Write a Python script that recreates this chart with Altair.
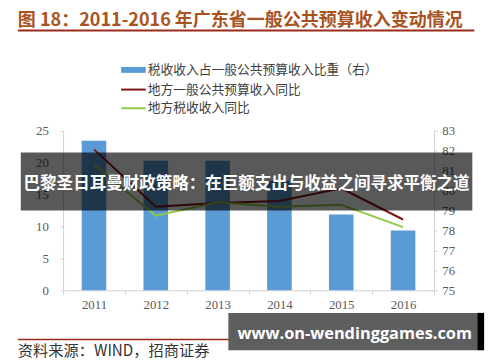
import altair as alt
import pandas as pd

years = ["2011", "2012", "2013", "2014", "2015", "2016"]
tax_share = [82.5, 81.5, 81.5, 80.5, 78.8, 78.0]      # 税收收入占一般公共预算收入比重(右)
budget_yoy = [22.1, 13.1, 13.7, 14.0, 16.0, 11.1]     # 地方一般公共预算收入同比
tax_yoy = [19.7, 11.7, 13.8, 13.1, 13.4, 9.9]         # 地方税收收入同比

s_bar = "税收收入占一般公共预算收入比重（右）"
s_red = "地方一般公共预算收入同比"
s_green = "地方税收收入同比"
title_text = "图 18：2011-2016 年广东省一般公共预算收入变动情况"
banner_text = "巴黎圣日耳曼财政策略：在巨额支出与收益之间寻求平衡之道"
source_text = "资料来源：WIND，招商证券"
watermark_text = "www.on-wendinggames.com"

BLUE = "#5B9BD5"
RED = "#7F1416"
GREEN = "#92C94A"
AX = "#D0D0D0"
LBL = "#595959"
SERIF = "Liberation Serif"
CJK = "Noto Sans CJK SC"

W, H = 377, 162

bar_df = pd.DataFrame({"year": years, "share": tax_share})
line_df = pd.DataFrame({
    "year": years * 2,
    "value": budget_yoy + tax_yoy,
    "series": [s_red] * 6 + [s_green] * 6,
})
one = pd.DataFrame({"k": [0]})

xenc = alt.X("year:N", title=None, sort=years,
             scale=alt.Scale(paddingInner=0, paddingOuter=0),
             axis=alt.Axis(labelAngle=0, tickBand="extent", domainColor=AX, tickColor=AX,
                           tickSize=4, labelPadding=5, labelFont=SERIF, labelFontSize=13,
                           labelColor=LBL))

bars = alt.Chart(bar_df).mark_bar(size=25, color=BLUE).encode(
    x=xenc,
    y=alt.Y("share:Q", title=None,
            scale=alt.Scale(domain=[75, 83], zero=False, nice=False),
            axis=alt.Axis(orient="right", values=list(range(75, 84)), grid=False,
                          domainColor=AX, tickColor=AX, tickSize=3, labelPadding=5,
                          labelFont=SERIF, labelFontSize=13, labelColor=LBL)),
    y2=alt.datum(75),
)

lines = alt.Chart(line_df).mark_line(strokeWidth=2).encode(
    x=xenc,
    y=alt.Y("value:Q", title=None,
            scale=alt.Scale(domain=[0, 25], nice=False),
            axis=alt.Axis(orient="left", values=[0, 5, 10, 15, 20, 25], grid=False,
                          domainColor=AX, tickColor=AX, tickSize=3, labelPadding=12,
                          labelFont=SERIF, labelFontSize=13, labelColor=LBL)),
    color=alt.Color("series:N", scale=alt.Scale(domain=[s_red, s_green], range=[RED, GREEN]),
                    legend=None),
)

def deco():
    return alt.Chart(one)

title = deco().mark_text(text=title_text, align="left", baseline="middle", font=CJK,
                         fontSize=18.3, fontWeight="bold", color="#A9531E").encode(
    x=alt.value(-46), y=alt.value(-112))
underline = deco().mark_rule(color="#9B2B1B", strokeWidth=2).encode(
    x=alt.value(-46), x2=alt.value(418), y=alt.value(-102))

leg_rect = deco().mark_rect(color=BLUE).encode(
    x=alt.value(59), x2=alt.value(84), y=alt.value(-65), y2=alt.value(-59))
leg_red = deco().mark_rule(color=RED, strokeWidth=2).encode(
    x=alt.value(59), x2=alt.value(84), y=alt.value(-42))
leg_green = deco().mark_rule(color=GREEN, strokeWidth=2).encode(
    x=alt.value(59), x2=alt.value(84), y=alt.value(-23))
leg_texts = []
for txt, yy in [(s_bar, -62), (s_red, -42), (s_green, -23)]:
    leg_texts.append(deco().mark_text(text=txt, align="left", baseline="middle", font=CJK,
                                      fontSize=13, color="#404040").encode(
        x=alt.value(86), y=alt.value(yy)))

src_line = deco().mark_rule(color="#9B2B1B", strokeWidth=1.5).encode(
    x=alt.value(-46), x2=alt.value(418), y=alt.value(212))
src_text = deco().mark_text(text=source_text, align="left", baseline="middle", font=CJK,
                            fontSize=15.5, color="#333333").encode(
    x=alt.value(-46), y=alt.value(224))

banner = deco().mark_rect(color="#000000", opacity=0.65).encode(
    x=alt.value(-43), x2=alt.value(416), y=alt.value(22), y2=alt.value(81))
banner_t = deco().mark_text(text=banner_text, align="center", baseline="middle", font=CJK,
                            fontSize=16.8, fontWeight="bold", color="#FFFFFF").encode(
    x=alt.value(186.5), y=alt.value(54))

wm = deco().mark_rect(color="#5E5E5E").encode(
    x=alt.value(168), x2=alt.value(421), y=alt.value(185), y2=alt.value(223))
wm_strip = deco().mark_rect(color="#000000").encode(
    x=alt.value(421), x2=alt.value(428), y=alt.value(185), y2=alt.value(223))
wm_t = deco().mark_text(text=watermark_text, align="center", baseline="middle",
                        font="Open Sans", fontSize=16.6, fontWeight="bold",
                        color="#FFFFFF").encode(x=alt.value(296.5), y=alt.value(207))

chart = alt.layer(
    bars, lines, title, underline, leg_rect, leg_red, leg_green, *leg_texts,
    src_line, src_text, banner, banner_t, wm, wm_strip, wm_t,
).resolve_scale(y="independent").properties(
    width=W, height=H,
    autosize=alt.AutoSizeParams(type="none"),
    padding={"left": 56, "top": 122, "right": 59, "bottom": 70},
    background="#FFFFFF",
).configure_view(stroke=None)

chart.save("out.html", embed_options={"renderer": "svg", "actions": False})
